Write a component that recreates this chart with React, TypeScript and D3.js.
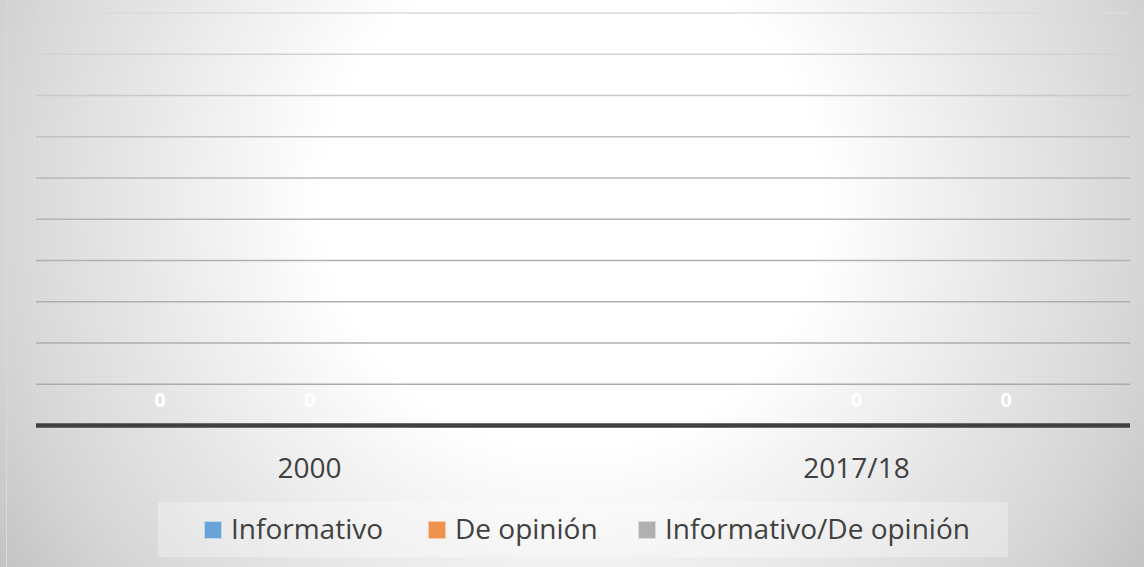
import React from "react";
import * as d3 from "d3";

const categories = ["2000", "2017/18"];
const seriesNames = ["Informativo", "De opinión", "Informativo/De opinión"];
const informativo: (number | null)[] = [0, null];
const deOpinion: (number | null)[] = [0, 0];
const informativoDeOpinion: (number | null)[] = [null, 0];
const seriesColors = ["#6aa3d8", "#f0914e", "#b0b0b0"];
const seriesStrokes = ["#bdd7ee", "#f8cbad", "#dbdbdb"];
const yDomain = [0, 1];

const W = 1144;
const H = 567;
const FONT = "'Open Sans', 'DejaVu Sans', sans-serif";

export default function App() {
  const series = [informativo, deOpinion, informativoDeOpinion];
  const plot = { left: 36, right: 1130, top: 13, bottom: 425.5 };
  const x = d3.scaleBand<string>().domain(categories).range([plot.left, plot.right]).padding(0);
  const xInner = d3
    .scaleBand<number>()
    .domain(seriesNames.map((_, i) => i))
    .range([0, x.bandwidth()])
    .paddingInner(0)
    .paddingOuter(0.33);
  const y = d3.scaleLinear().domain(yDomain).range([plot.bottom, plot.top]);
  const ticks = y.ticks(10).filter((t) => t > 0);

  const legendSquareX = [204, 428, 638];

  return (
    <svg
      width={W}
      height={H}
      style={{ position: "absolute", left: 0, top: 0, display: "block" }}
    >
      <defs>
        <radialGradient id="bg" gradientUnits="userSpaceOnUse" cx={572} cy={200} r={690}>
          <stop offset="0" stopColor="#ffffff" />
          <stop offset="0.36" stopColor="#ffffff" />
          <stop offset="0.83" stopColor="#d6d6d6" />
          <stop offset="1" stopColor="#c2c2c2" />
        </radialGradient>
        <linearGradient id="grid" gradientUnits="userSpaceOnUse" x1={0} y1={0} x2={0} y2={430}>
          <stop offset="0" stopColor="#dedede" />
          <stop offset="0.45" stopColor="#b4b4b4" />
          <stop offset="1" stopColor="#a9a9a9" />
        </linearGradient>
      </defs>
      <rect x={0} y={0} width={W} height={H} fill="url(#bg)" />
      <line x1={6.5} x2={6.5} y1={0} y2={H} stroke="#dadada" strokeWidth={1} />

      {ticks.map((t) => (
        <line
          key={t}
          x1={plot.left}
          x2={plot.right}
          y1={y(t)}
          y2={y(t)}
          stroke="url(#grid)"
          strokeWidth={1.5}
        />
      ))}

      {categories.map((c, ci) =>
        series.map((s, si) => {
          const v = s[ci];
          if (v === null || v === undefined) return null;
          const bx = (x(c) ?? 0) + (xInner(si) ?? 0);
          const bw = xInner.bandwidth();
          const y0 = y(0);
          const y1 = y(v);
          return (
            <g key={`${ci}-${si}`}>
              <rect x={bx} y={y1} width={bw} height={Math.max(0, y0 - y1)} fill={seriesColors[si]} />
              <text
                x={bx + bw / 2}
                y={y1 - 19}
                textAnchor="middle"
                fontFamily={FONT}
                fontWeight="bold"
                fontSize={19.5}
                fill="#ffffff"
              >
                {v}
              </text>
            </g>
          );
        })
      )}

      <line
        x1={plot.left}
        x2={plot.right}
        y1={y(0)}
        y2={y(0)}
        stroke="#404040"
        strokeWidth={4.5}
      />

      {categories.map((c) => (
        <text
          key={c}
          x={(x(c) ?? 0) + x.bandwidth() / 2}
          y={478}
          textAnchor="middle"
          fontFamily={FONT}
          fontSize={28}
          fill="#404040"
        >
          {c}
        </text>
      ))}

      <rect x={158} y={502} width={850} height={55} fill="#ffffff" fillOpacity={0.3} />
      {seriesNames.map((n, i) => (
        <g key={n}>
          <rect
            x={legendSquareX[i] + 0.5}
            y={521.5}
            width={17}
            height={17}
            fill={seriesColors[i]}
            stroke={seriesStrokes[i]}
            strokeWidth={1}
          />
          <text
            x={legendSquareX[i] + 27}
            y={539}
            fontFamily={FONT}
            fontSize={28}
            fill="#404040"
          >
            {n}
          </text>
        </g>
      ))}
    </svg>
  );
}
